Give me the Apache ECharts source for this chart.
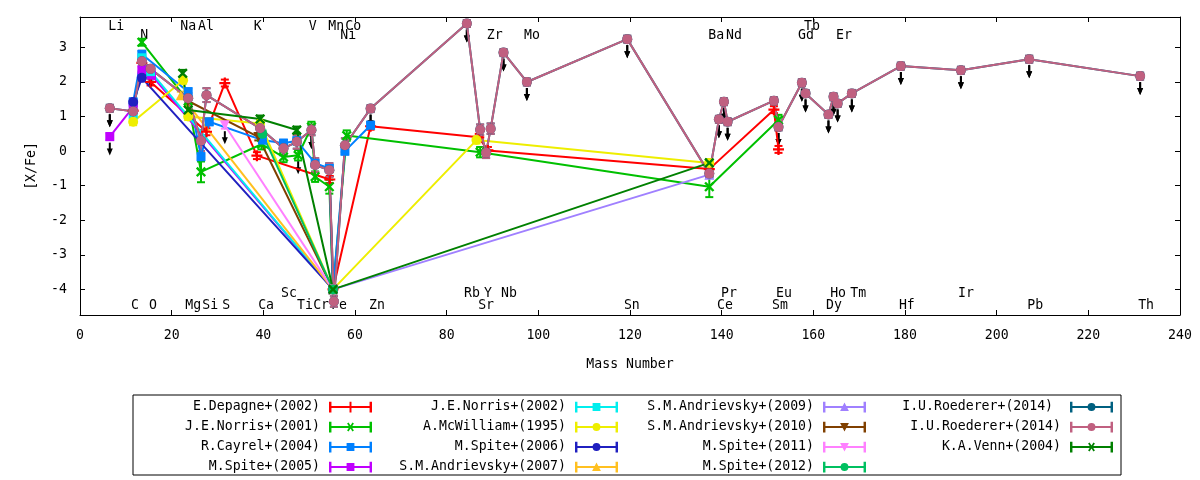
<!DOCTYPE html>
<html>
<head>
<meta charset="utf-8">
<script src="https://cdn.jsdelivr.net/npm/echarts@6/dist/echarts.min.js"></script>
<style>
  html, body {margin: 0; padding: 0; background: #fff;}
  #chart {width: 1200px; height: 480px;}
</style>
</head>
<body>
<div id="chart"></div>
<script>
// each point: [mass number, [X/Fe] (Fe itself as [Fe/H]), error, upper limit flag]
const depagne2002 = [
    [11.6, 1.17, 0.1, 0], [13.5, 2.55, 0.1, 0], [15.4, 2.0, 0.1, 0],
    [27.6, 0.56, 0.1, 0], [31.6, 1.97, 0.1, 0], [38.6, -0.13, 0.1, 0],
    [54.5, -0.82, 0.1, 0], [55.2, -4.0, 0.1, 0], [63.4, 0.72, 0.1, 0],
    [87.0, 0.40, 0.1, 0], [89.0, 0.02, 0.1, 0], [137.3, -0.52, 0.1, 0],
    [151.4, 1.20, 0.1, 0], [152.4, 0.05, 0.1, 0]
];
const norris2001 = [
    [13.5, 3.15, 0.1, 0], [23.6, 1.45, 0.15, 0], [26.4, -0.6, 0.3, 0],
    [39.6, 0.2, 0.15, 0], [44.4, -0.17, 0.15, 0], [47.6, -0.12, 0.15, 1],
    [50.5, 0.70, 0.15, 0], [51.3, -0.74, 0.15, 0], [54.4, -1.03, 0.2, 0],
    [55.2, -4.0, 0.1, 0], [58.2, 0.45, 0.15, 0], [87.3, -0.03, 0.15, 0],
    [137.3, -1.03, 0.3, 0], [152.4, 0.9, 0.15, 0]
];
const cayrel2004 = [
    [11.6, 1.42, 0.1, 0], [13.5, 2.8, 0.1, 0], [23.6, 1.72, 0.1, 0],
    [26.4, -0.16, 0.1, 0], [28.2, 0.85, 0.1, 0], [39.8, 0.32, 0.1, 0],
    [44.4, 0.23, 0.1, 0], [47.3, 0.3, 0.1, 0], [51.3, -0.35, 0.1, 0],
    [54.4, -0.50, 0.1, 0], [55.2, -4.0, 0.1, 0], [57.8, 0.0, 0.1, 0],
    [63.4, 0.75, 0.1, 0]
];
const spite2005 = [
    [6.5, 0.42, 0.1, 1], [11.6, 1.27, 0.1, 0], [13.5, 2.35, 0.1, 0],
    [15.6, 2.2, 0.1, 0], [55.2, -4.0, 0.1, 0]
];
const norris2002 = [
    [11.6, 1.05, 0.1, 0], [13.5, 2.7, 0.15, 0], [15.4, 2.3, 0.1, 0],
    [55.2, -4.0, 0.1, 0]
];
const mcwilliam1995 = [
    [11.6, 0.85, 0.1, 0], [22.5, 2.05, 0.1, 0], [23.6, 1.0, 0.1, 0],
    [39.3, 0.8, 0.1, 0], [55.2, -4.0, 0.1, 0], [86.5, 0.32, 0.1, 0],
    [137.3, -0.34, 0.1, 0]
];
const spite2006 = [
    [11.6, 1.42, 0.1, 0], [13.5, 2.12, 0.1, 0], [55.2, -4.0, 0.1, 0]
];
const andrievsky2007 = [
    [22.0, 1.62, 0.1, 0], [55.2, -4.0, 0.1, 0]
];
const andrievsky2009 = [
    [55.2, -4.0, 0.1, 0], [137.3, -0.68, 0.1, 0]
];
const andrievsky2010 = [
    [23.6, 1.45, 0.1, 0], [38.9, 0.41, 0.1, 0], [55.2, -4.0, 0.1, 0]
];
const spite2011 = [
    [31.6, 0.75, 0.1, 1], [55.2, -4.0, 0.1, 0]
];
const spite2012 = [
    [39.8, 0.5, 0.1, 0], [55.2, -4.0, 0.1, 0]
];
const roederer2014 = [
    [6.5, 1.24, 0.1, 1], [11.6, 1.15, 0.15, 0], [13.5, 2.6, 0.3, 0],
    [15.4, 2.38, 0.1, 1], [23.6, 1.53, 0.15, 0], [26.4, 0.3, 0.3, 0],
    [27.6, 1.62, 0.2, 0], [39.3, 0.66, 0.18, 0], [44.4, 0.08, 0.2, 0],
    [47.3, 0.27, 0.2, 0], [50.5, 0.61, 0.15, 1], [51.3, -0.40, 0.2, 0],
    [54.4, -0.55, 0.2, 0], [55.4, -4.35, 0.15, 0], [57.8, 0.17, 0.2, 0],
    [63.4, 1.23, 0.1, 1], [84.4, 3.69, 0.1, 1], [87.3, 0.62, 0.15, 0],
    [88.6, -0.05, 0.15, 0], [89.6, 0.65, 0.15, 0], [92.4, 2.85, 0.1, 1],
    [97.5, 2.0, 0.1, 1], [119.4, 3.24, 0.1, 1], [137.3, -0.65, 0.1, 0],
    [139.4, 0.92, 0.1, 1], [140.5, 1.43, 0.1, 1], [141.3, 0.85, 0.1, 1],
    [151.4, 1.46, 0.1, 0], [152.4, 0.70, 0.1, 1], [157.5, 1.98, 0.1, 1],
    [158.3, 1.67, 0.1, 1], [163.3, 1.06, 0.1, 1], [164.4, 1.57, 0.1, 1],
    [165.3, 1.38, 0.1, 1], [168.4, 1.67, 0.1, 1], [179.1, 2.46, 0.1, 1],
    [192.2, 2.34, 0.1, 1], [207.1, 2.66, 0.1, 1], [231.3, 2.17, 0.1, 1]
];
const venn2004 = [
    [22.4, 2.25, 0.1, 0], [23.6, 1.19, 0.1, 0], [39.3, 0.93, 0.1, 0],
    [47.3, 0.61, 0.1, 0], [55.2, -4.0, 0.1, 0], [137.3, -0.34, 0.1, 0]
];

// element names written inside the frame
const elemNames = ['Li', 'N', 'Na', 'Al', 'K', 'V', 'Mn', 'Co', 'Ni', 'Zr', 'Mo', 'Ba', 'Nd', 'Tb', 'Gd', 'Er',
    'C', 'O', 'Mg', 'Si', 'S', 'Ca', 'Sc', 'Ti', 'Cr', 'Fe', 'Zn', 'Rb', 'Y', 'Nb', 'Sr', 'Sn',
    'Pr', 'Ce', 'Eu', 'Sm', 'Ho', 'Tm', 'Dy', 'Hf', 'Ir', 'Pb', 'Th'];
const elemMass = [7.9, 14.0, 23.6, 27.5, 38.8, 50.8, 55.9, 59.6, 58.5, 90.5, 98.6, 138.8, 142.7, 159.7, 158.4, 166.7,
    12.0, 15.9, 24.7, 28.4, 31.9, 40.6, 45.6, 49.1, 52.6, 56.5, 64.8, 85.5, 89.0, 93.6, 88.6, 120.4,
    141.6, 140.7, 153.6, 152.7, 165.4, 169.8, 164.5, 180.4, 193.3, 208.4, 232.6];
const elemRow = [3.6, 3.35, 3.6, 3.6, 3.6, 3.6, 3.6, 3.6, 3.35, 3.35, 3.35, 3.35, 3.35, 3.6, 3.35, 3.35,
    -4.46, -4.46, -4.46, -4.46, -4.46, -4.46, -4.11, -4.46, -4.46, -4.46, -4.46, -4.11, -4.11, -4.11, -4.46, -4.46,
    -4.11, -4.46, -4.11, -4.46, -4.11, -4.11, -4.46, -4.46, -4.11, -4.46, -4.46];

const yTicks = [-4, -3, -2, -1, 0, 1, 2, 3];

const FONT = 'DejaVu Sans Mono';
const FSIZE = 13.2;
const PLUS = 'path://M4,0H6V4H10V6H6V10H4V6H0V4H4Z';

const marks = {
    plus: {symbol: PLUS, rotate: 0, size: 11, icon: 'M21,0.5H23V11.5H21Z'},
    cross: {symbol: PLUS, rotate: 45, size: 12,
        icon: 'M18.5,2.5L20,1.5L22,4.5L24,1.5L25.5,2.5L23.2,6L25.5,9.5L24,10.5L22,7.5L20,10.5L18.5,9.5L20.8,6Z'},
    square: {symbol: 'rect', rotate: 0, size: 9, icon: 'M18,2H26V10H18Z'},
    circle: {symbol: 'circle', rotate: 0, size: 10, icon: 'M26,6A4,4 0 1 1 18,6A4,4 0 1 1 26,6Z'},
    up: {symbol: 'triangle', rotate: 0, size: 10, icon: 'M22,1.5L26.5,10L17.5,10Z'},
    down: {symbol: 'triangle', rotate: 180, size: 10, icon: 'M17.5,2L26.5,2L22,10.5Z'}
};

const studies = [
    {name: 'E.Depagne+(2002)', data: depagne2002, color: '#ff0000', mark: 'plus'},
    {name: 'J.E.Norris+(2001)', data: norris2001, color: '#00c000', mark: 'cross'},
    {name: 'R.Cayrel+(2004)', data: cayrel2004, color: '#0080ff', mark: 'square'},
    {name: 'M.Spite+(2005)', data: spite2005, color: '#c000ff', mark: 'square'},
    {name: 'J.E.Norris+(2002)', data: norris2002, color: '#00eeee', mark: 'square'},
    {name: 'A.McWilliam+(1995)', data: mcwilliam1995, color: '#eeee00', mark: 'circle'},
    {name: 'M.Spite+(2006)', data: spite2006, color: '#2020c0', mark: 'circle'},
    {name: 'S.M.Andrievsky+(2007)', data: andrievsky2007, color: '#ffc020', mark: 'up'},
    {name: 'S.M.Andrievsky+(2009)', data: andrievsky2009, color: '#a080ff', mark: 'up'},
    {name: 'S.M.Andrievsky+(2010)', data: andrievsky2010, color: '#804000', mark: 'down'},
    {name: 'M.Spite+(2011)', data: spite2011, color: '#ff80ff', mark: 'down'},
    {name: 'M.Spite+(2012)', data: spite2012, color: '#00c060', mark: 'circle'},
    {name: 'I.U.Roederer+(2014) ', data: roederer2014, color: '#006080', mark: 'circle'},
    {name: 'I.U.Roederer+(2014)', data: roederer2014, color: '#c06080', mark: 'circle'},
    {name: 'K.A.Venn+(2004)', data: venn2004, color: '#008000', mark: 'cross'}
];

function legendIcon(mark) {
    return 'path://M0,5H44V7H0ZM0,0.5H2.5V11.5H0ZM41.5,0.5H44V11.5H41.5Z' + marks[mark].icon;
}

function errorBars(st) {
    return {
        type: 'custom', name: st.name + '_err', data: st.data, silent: true, clip: true,
        encode: {x: 0, y: 1},
        renderItem: function (params, api) {
            const x = api.value(0), y = api.value(1), e = api.value(2);
            const hi = api.coord([x, y + e]), lo = api.coord([x, y - e]);
            const w = 4;
            const style = {stroke: st.color, lineWidth: 2};
            return {
                type: 'group', children: [
                    {type: 'line', shape: {x1: hi[0], y1: hi[1], x2: lo[0], y2: lo[1]}, style: style},
                    {type: 'line', shape: {x1: hi[0] - w, y1: hi[1], x2: hi[0] + w, y2: hi[1]}, style: style},
                    {type: 'line', shape: {x1: lo[0] - w, y1: lo[1], x2: lo[0] + w, y2: lo[1]}, style: style}
                ]
            };
        }
    };
}

const series = [];

series.push({
    type: 'scatter', name: 'elements', silent: true, z: 1, symbolSize: 1,
    itemStyle: {color: 'rgba(255,255,255,0)'},
    data: elemNames.map((n, i) => [elemMass[i], elemRow[i], n]),
    label: {
        show: true, position: 'inside', formatter: p => p.data[2],
        color: '#000', opacity: 1, textBorderWidth: 0, fontFamily: FONT, fontSize: FSIZE
    }
});

studies.forEach(st => {
    const m = marks[st.mark];
    series.push(errorBars(st));
    series.push({
        type: 'line', name: st.name, data: st.data.map(d => [d[0], d[1]]),
        symbol: m.symbol, symbolRotate: m.rotate, symbolSize: m.size,
        showAllSymbol: true, clip: true,
        lineStyle: {color: st.color, width: 2},
        itemStyle: {color: st.color, borderWidth: 0}
    });
});

// upper limits drawn as small black arrows under the point
const limits = [];
studies.forEach(st => st.data.forEach(d => { if (d[3]) limits.push([d[0], d[1]]); }));
series.push({
    type: 'custom', name: 'limits', data: limits, silent: true, clip: true,
    encode: {x: 0, y: 1},
    renderItem: function (params, api) {
        const p = api.coord([api.value(0), api.value(1)]);
        return {
            type: 'group', children: [
                {type: 'line', shape: {x1: p[0], y1: p[1] + 6, x2: p[0], y2: p[1] + 14},
                    style: {stroke: '#000', lineWidth: 2}},
                {type: 'polygon', shape: {points: [[p[0] - 3, p[1] + 12], [p[0] + 3, p[1] + 12], [p[0], p[1] + 19]]},
                    style: {fill: '#000'}}
            ]
        };
    }
});

const columns = [
    {right: 828, items: studies.slice(0, 4)},
    {right: 582, items: studies.slice(4, 8)},
    {right: 334, items: studies.slice(8, 12)},
    {right: 87, items: studies.slice(12, 15)}
];

const legends = columns.map(col => ({
    orient: 'vertical', align: 'right', right: col.right, top: 400, bottom: 0, padding: 0,
    itemWidth: 43, itemHeight: 11, itemGap: 6, selectedMode: false,
    symbolRotate: 0,
    itemStyle: {borderWidth: 0},
    textStyle: {fontFamily: FONT, fontSize: FSIZE, color: '#000', lineHeight: 14, padding: [0, 4, 0, 0]},
    data: col.items.map(st => ({name: st.name, icon: legendIcon(st.mark)}))
}));

const axisText = {fontFamily: FONT, fontSize: FSIZE, color: '#000'};
const frameLine = {show: true, onZero: false, lineStyle: {color: '#000', width: 1}};

const option = {
    animation: false,
    backgroundColor: '#fff',
    grid: {left: 80, right: 20, top: 17, bottom: 165},
    xAxis: [
        {
            type: 'value', min: 0, max: 240, interval: 20,
            name: 'Mass Number', nameLocation: 'middle', nameGap: 43, nameTextStyle: axisText,
            axisLine: frameLine, axisTick: {inside: true, length: 5, lineStyle: {color: '#000'}},
            axisLabel: Object.assign({margin: 14}, axisText), splitLine: {show: false}
        },
        {
            type: 'value', position: 'top', min: 0, max: 240, interval: 20,
            axisLine: frameLine, axisTick: {inside: true, length: 5, lineStyle: {color: '#000'}},
            axisLabel: {show: false}, splitLine: {show: false}
        }
    ],
    yAxis: [
        {
            type: 'value', min: -4.74, max: 3.88,
            name: '[X/Fe]', nameLocation: 'middle', nameGap: 42, nameTextStyle: axisText,
            axisLine: frameLine,
            axisTick: {inside: true, length: 5, customValues: yTicks, lineStyle: {color: '#000'}},
            axisLabel: Object.assign({margin: 13, customValues: yTicks}, axisText),
            splitLine: {show: false}
        },
        {
            type: 'value', position: 'right', min: -4.74, max: 3.88,
            axisLine: frameLine,
            axisTick: {inside: true, length: 5, customValues: yTicks, lineStyle: {color: '#000'}},
            axisLabel: {show: false}, splitLine: {show: false}
        }
    ],
    legend: legends,
    graphic: [{
        type: 'rect', shape: {x: 133, y: 395, width: 988, height: 80},
        style: {fill: 'none', stroke: '#000', lineWidth: 1}, silent: true
    }],
    series: series
};

const chart = echarts.init(document.getElementById('chart'));
chart.setOption(option);
</script>
</body>
</html>
